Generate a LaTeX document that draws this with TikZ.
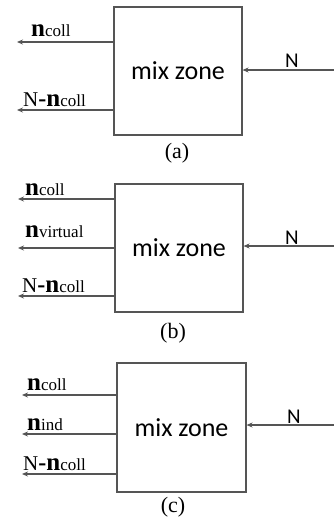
\documentclass[tikz,border=0pt]{standalone}
\usepackage{fontspec}
\setmainfont{Liberation Serif}
\newfontfamily\calib{Carlito}
\usetikzlibrary{arrows.meta}
\definecolor{linegray}{HTML}{555555}
\newcommand{\nlbl}[1]{{\fontsize{25}{25}\selectfont\bfseries n}{\fontsize{17}{17}\selectfont #1}}
\newcommand{\Nlbl}{{\fontsize{21}{21}\selectfont N}{\fontsize{24}{24}\selectfont\bfseries -}\nlbl{coll}}
\begin{document}
\begin{tikzpicture}[x=1pt,y=-1pt,
  zone/.style={draw=linegray, line width=1.1pt, minimum width=128pt, minimum height=128pt, inner sep=0pt, font=\calib\fontsize{26}{26}\selectfont},
  flow/.style={draw=linegray, line width=1.1pt, -{Stealth[length=6pt,width=5pt]}},
  lbl/.style={anchor=base west, inner sep=0pt},
  nlab/.style={inner sep=0pt, font=\calib\fontsize{21}{21}\selectfont},
  captxt/.style={inner sep=0pt, font=\fontsize{22}{22}\selectfont}]
\useasboundingbox (0,0) rectangle (334,522);
% (a)
\node[zone] (A) at (178,71) {mix zone};
\coordinate (A1) at (17,42);
\coordinate (A2) at (17,110);
\coordinate (AN) at (334,70);
\draw[flow] (A.west |- A1) -- (A1);
\draw[flow] (A.west |- A2) -- (A2);
\draw[flow] (AN) -- (AN -| A.east);
\node[lbl] (Al1) at (31,36) {\nlbl{coll}};
\node[lbl] (Al2) at (23,106) {\Nlbl};
\node[nlab] (AlN) at (292,61) {N};
\node[captxt] (Acap) at (177,153) {(a)};
% (b)
\node[zone] (B) at (179,248) {mix zone};
\coordinate (B1) at (18,199);
\coordinate (B2) at (18,248);
\coordinate (B3) at (18,296);
\coordinate (BN) at (334,246);
\draw[flow] (B.west |- B1) -- (B1);
\draw[flow] (B.west |- B2) -- (B2);
\draw[flow] (B.west |- B3) -- (B3);
\draw[flow] (BN) -- (BN -| B.east);
\node[lbl] (Bl1) at (25,195) {\nlbl{coll}};
\node[lbl] (Bl2) at (25,237) {\nlbl{virtual}};
\node[lbl] (Bl3) at (22,292) {\Nlbl};
\node[nlab] (BlN) at (292,238) {N};
\node[captxt] (Bcap) at (173,333) {(b)};
% (c)
\node[zone, minimum width=129pt, minimum height=129pt] (C) at (181.5,427.5) {mix zone};
\coordinate (C1) at (22,395);
\coordinate (C2) at (22,434);
\coordinate (C3) at (22,474);
\coordinate (CN) at (334,425);
\draw[flow] (C.west |- C1) -- (C1);
\draw[flow] (C.west |- C2) -- (C2);
\draw[flow] (C.west |- C3) -- (C3);
\draw[flow] (CN) -- (CN -| C.east);
\node[lbl] (Cl1) at (27,390) {\nlbl{coll}};
\node[lbl] (Cl2) at (27,430) {\nlbl{ind}};
\node[lbl] (Cl3) at (23,470) {\Nlbl};
\node[nlab] (ClN) at (294,417) {N};
\node[captxt] (Ccap) at (173,507) {(c)};
\end{tikzpicture}
\end{document}
